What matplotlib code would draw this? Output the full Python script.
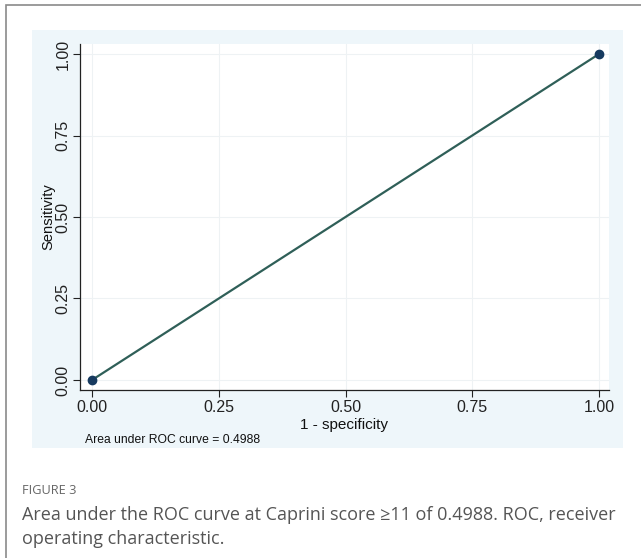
import matplotlib.pyplot as plt
from matplotlib.patches import Rectangle

# ROC curve points (1 - specificity, sensitivity)
fpr = [0.0, 1.0]
tpr = [0.0, 1.0]
ticks = [0.0, 0.25, 0.5, 0.75, 1.0]
tick_labels = ['0.00', '0.25', '0.50', '0.75', '1.00']
auc = 0.4988

plt.rcParams['font.family'] = ['Liberation Sans', 'DejaVu Sans']

W, H = 641, 558
fig = plt.figure(figsize=(W / 100, H / 100), dpi=100)

def fx(px):
    return px / W

def fy(py):
    return 1 - py / H

# outer frame (left and top edges visible)
fig.patches.append(Rectangle((fx(6), fy(600)), fx(700), fy(5) - fy(600),
                             transform=fig.transFigure, fill=False,
                             edgecolor='#8a8a8a', linewidth=1.2, zorder=-2))
# light blue panel behind the graph
fig.patches.append(Rectangle((fx(32), fy(448)), fx(623 - 32), fy(30) - fy(448),
                             transform=fig.transFigure, facecolor='#eef6fa',
                             edgecolor='none', zorder=-1))

ax = fig.add_axes([fx(80), fy(390), fx(609 - 80), fy(44) - fy(390)])
ax.set_facecolor('white')
ax.plot(fpr, tpr, color='#2f5f58', linewidth=1.6, zorder=3)
ax.scatter(fpr, tpr, s=36, color='#163a5f', zorder=4)

ax.set_xlim(-0.0237, 1.0197)
ax.set_ylim(-0.0307, 1.0307)
ax.set_xticks(ticks)
ax.set_xticklabels(tick_labels)
ax.set_yticks(ticks)
ax.set_yticklabels(tick_labels, rotation=90, va='center')
ax.tick_params(direction='out', length=5, width=0.8, labelsize=11.5,
               colors='#222222', pad=2)
ax.grid(True, color='#eef2f4', linewidth=0.8)
ax.set_axisbelow(True)
for s in ['top', 'right']:
    ax.spines[s].set_visible(False)
for s in ['left', 'bottom']:
    ax.spines[s].set_linewidth(0.9)
    ax.spines[s].set_color('#222222')

ax.set_xlabel('1 - specificity', fontsize=11, labelpad=2, color='#111111')
ax.set_ylabel('Sensitivity', fontsize=10.6, labelpad=0, color='#111111')

fig.text(fx(85), fy(440), 'Area under ROC curve = %.4f' % auc,
         fontsize=8.7, va='center', ha='left', color='#111111')

fig.text(fx(22), fy(491), 'FIGURE 3', fontsize=9.2, family='Open Sans',
         va='center', ha='left', color='#666666')
fig.text(fx(22), fy(515),
         'Area under the ROC curve at Caprini score \u226511 of 0.4988. ROC, receiver',
         fontsize=13, family='Open Sans', va='center', ha='left',
         color='#555555')
fig.text(fx(22), fy(539), 'operating characteristic.', fontsize=13,
         family='Open Sans', va='center', ha='left', color='#555555')

fig.savefig('out.png', dpi=100)
